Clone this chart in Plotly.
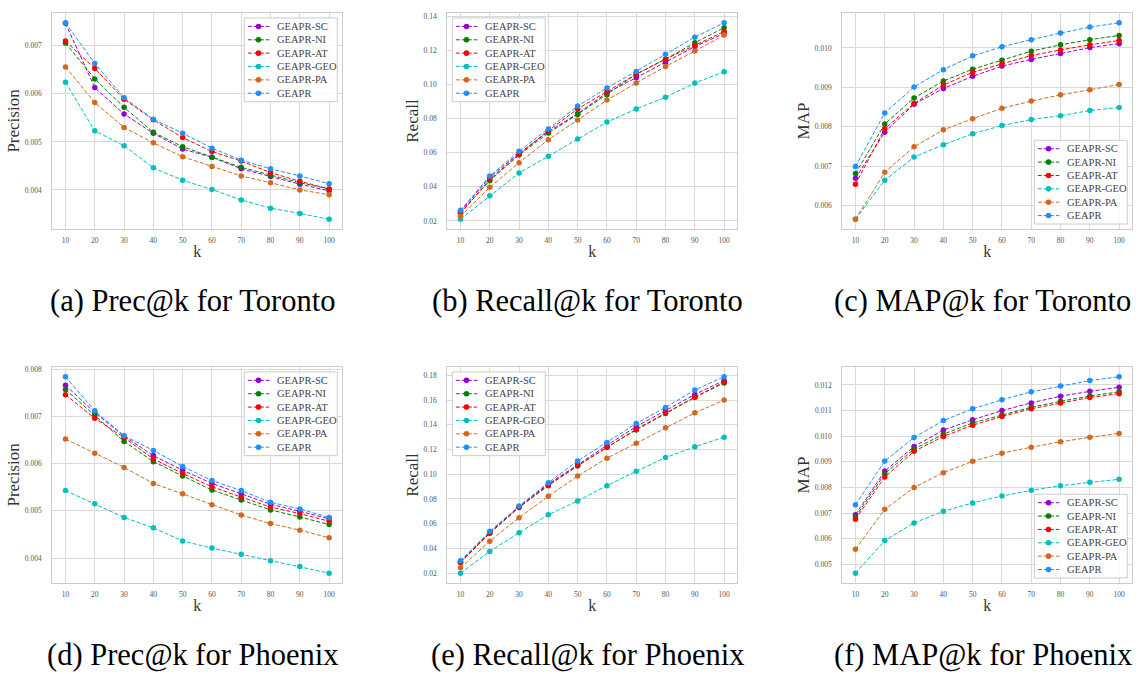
import plotly.graph_objects as go

W, H = 1138, 674

k_values = [10, 20, 30, 40, 50, 60, 70, 80, 90, 100]
series_names = ["GEAPR-SC", "GEAPR-NI", "GEAPR-AT", "GEAPR-GEO", "GEAPR-PA", "GEAPR"]
series_colors = ["#9400D3", "#008000", "#FF0000", "#00BFBF", "#D2691E", "#1E90FF"]

# (a) Precision Toronto
prec_toronto_sc = [0.00747, 0.00613, 0.00558, 0.00518, 0.00485, 0.00468, 0.00444, 0.00428, 0.00412, 0.00398]
prec_toronto_ni = [0.00706, 0.00631, 0.00572, 0.00520, 0.00490, 0.00468, 0.00447, 0.00431, 0.00415, 0.00402]
prec_toronto_at = [0.00710, 0.00653, 0.00589, 0.00546, 0.00509, 0.00480, 0.00460, 0.00436, 0.00418, 0.00402]
prec_toronto_geo = [0.00624, 0.00523, 0.00492, 0.00446, 0.00420, 0.00401, 0.00379, 0.00362, 0.00351, 0.00339]
prec_toronto_pa = [0.00656, 0.00582, 0.00530, 0.00498, 0.00469, 0.00449, 0.00429, 0.00415, 0.00400, 0.00390]
prec_toronto_geapr = [0.00748, 0.00663, 0.00592, 0.00547, 0.00518, 0.00487, 0.00462, 0.00444, 0.00429, 0.00413]

# (b) Recall Toronto
rec_toronto_sc = [0.0255, 0.0456, 0.0596, 0.0723, 0.0828, 0.0951, 0.1039, 0.1129, 0.1222, 0.1299]
rec_toronto_ni = [0.0249, 0.0436, 0.0586, 0.0715, 0.0824, 0.0940, 0.1060, 0.1148, 0.1244, 0.1332]
rec_toronto_at = [0.0243, 0.0444, 0.0590, 0.0729, 0.0856, 0.0957, 0.1060, 0.1148, 0.1228, 0.1310]
rec_toronto_geo = [0.0210, 0.0348, 0.0481, 0.0579, 0.0680, 0.0779, 0.0856, 0.0924, 0.1008, 0.1074]
rec_toronto_pa = [0.0227, 0.0397, 0.0541, 0.0676, 0.0791, 0.0908, 0.1008, 0.1105, 0.1195, 0.1289]
rec_toronto_geapr = [0.0262, 0.0463, 0.0608, 0.0739, 0.0873, 0.0979, 0.1076, 0.1176, 0.1277, 0.1361]

# (c) MAP Toronto
map_toronto_sc = [0.00669, 0.00786, 0.00857, 0.00897, 0.00928, 0.00954, 0.00971, 0.00986, 0.01001, 0.01011]
map_toronto_ni = [0.00681, 0.00807, 0.00873, 0.00916, 0.00946, 0.00969, 0.00992, 0.01008, 0.01021, 0.01032]
map_toronto_at = [0.00654, 0.00795, 0.00859, 0.00906, 0.00938, 0.00960, 0.00981, 0.00995, 0.01008, 0.01019]
map_toronto_geo = [0.00565, 0.00664, 0.00723, 0.00754, 0.00782, 0.00803, 0.00818, 0.00828, 0.00841, 0.00849]
map_toronto_pa = [0.00565, 0.00684, 0.00749, 0.00792, 0.00820, 0.00847, 0.00865, 0.00881, 0.00894, 0.00907]
map_toronto_geapr = [0.00699, 0.00835, 0.00901, 0.00945, 0.00980, 0.01003, 0.01021, 0.01038, 0.01053, 0.01064]

# (d) Precision Phoenix
prec_phoenix_sc = [0.00766, 0.00708, 0.00658, 0.00617, 0.00586, 0.00558, 0.00536, 0.00514, 0.00499, 0.00483]
prec_phoenix_ni = [0.00757, 0.00703, 0.00647, 0.00604, 0.00574, 0.00544, 0.00523, 0.00502, 0.00487, 0.00471]
prec_phoenix_at = [0.00746, 0.00696, 0.00655, 0.00610, 0.00579, 0.00551, 0.00529, 0.00508, 0.00494, 0.00478]
prec_phoenix_geo = [0.00543, 0.00515, 0.00486, 0.00464, 0.00436, 0.00421, 0.00408, 0.00394, 0.00382, 0.00368]
prec_phoenix_pa = [0.00652, 0.00622, 0.00592, 0.00558, 0.00536, 0.00513, 0.00491, 0.00473, 0.00459, 0.00443]
prec_phoenix_geapr = [0.00784, 0.00712, 0.00659, 0.00628, 0.00594, 0.00564, 0.00543, 0.00518, 0.00504, 0.00486]

# (e) Recall Phoenix
rec_phoenix_sc = [0.0292, 0.0530, 0.0738, 0.0922, 0.1076, 0.1235, 0.1386, 0.1519, 0.1646, 0.1759]
rec_phoenix_ni = [0.0286, 0.0522, 0.0732, 0.0914, 0.1068, 0.1219, 0.1359, 0.1492, 0.1622, 0.1738]
rec_phoenix_at = [0.0286, 0.0524, 0.0732, 0.0908, 0.1068, 0.1219, 0.1365, 0.1495, 0.1624, 0.1746]
rec_phoenix_geo = [0.0200, 0.0376, 0.0527, 0.0673, 0.0784, 0.0908, 0.1024, 0.1135, 0.1222, 0.1300]
rec_phoenix_pa = [0.0243, 0.0459, 0.0649, 0.0822, 0.0986, 0.1130, 0.1251, 0.1376, 0.1497, 0.1600]
rec_phoenix_geapr = [0.0300, 0.0538, 0.0743, 0.0932, 0.1108, 0.1257, 0.1411, 0.1541, 0.1681, 0.1789]

# (f) MAP Phoenix
map_phoenix_sc = [0.00694, 0.00864, 0.00960, 0.01024, 0.01064, 0.01100, 0.01130, 0.01156, 0.01175, 0.01191]
map_phoenix_ni = [0.00685, 0.00854, 0.00950, 0.01008, 0.01052, 0.01083, 0.01113, 0.01136, 0.01157, 0.01173]
map_phoenix_at = [0.00676, 0.00841, 0.00941, 0.00999, 0.01043, 0.01077, 0.01107, 0.01130, 0.01151, 0.01166]
map_phoenix_geo = [0.00466, 0.00593, 0.00662, 0.00707, 0.00740, 0.00767, 0.00789, 0.00807, 0.00820, 0.00832]
map_phoenix_pa = [0.00559, 0.00715, 0.00800, 0.00858, 0.00902, 0.00934, 0.00957, 0.00978, 0.00996, 0.01011]
map_phoenix_geapr = [0.00733, 0.00903, 0.00995, 0.01061, 0.01107, 0.01142, 0.01173, 0.01196, 0.01217, 0.01232]

captions = ["(a) Prec@k for Toronto", "(b) Recall@k for Toronto", "(c) MAP@k for Toronto",
            "(d) Prec@k for Phoenix", "(e) Recall@k for Phoenix", "(f) MAP@k for Phoenix"]
y_titles = ["Precision", "Recall", "MAP", "Precision", "Recall", "MAP"]
x_title = "k"

panels = [
    [prec_toronto_sc, prec_toronto_ni, prec_toronto_at, prec_toronto_geo, prec_toronto_pa, prec_toronto_geapr],
    [rec_toronto_sc, rec_toronto_ni, rec_toronto_at, rec_toronto_geo, rec_toronto_pa, rec_toronto_geapr],
    [map_toronto_sc, map_toronto_ni, map_toronto_at, map_toronto_geo, map_toronto_pa, map_toronto_geapr],
    [prec_phoenix_sc, prec_phoenix_ni, prec_phoenix_at, prec_phoenix_geo, prec_phoenix_pa, prec_phoenix_geapr],
    [rec_phoenix_sc, rec_phoenix_ni, rec_phoenix_at, rec_phoenix_geo, rec_phoenix_pa, rec_phoenix_geapr],
    [map_phoenix_sc, map_phoenix_ni, map_phoenix_at, map_phoenix_geo, map_phoenix_pa, map_phoenix_geapr],
]
tick_formats = [".3f", ".2f", ".3f", ".3f", ".2f", ".3f"]
tick_steps = [0.001, 0.02, 0.001, 0.001, 0.02, 0.001]
legend_corner = ["tr", "tl", "br", "tr", "tl", "br"]

# layout geometry (pixels)
col_left = [52.3, 447.3, 842.3]
plot_w = 290.0
row_top = [11.0, 366.0]
plot_h = 216.7

def px(x):
    return x / W

def py(y):
    return 1 - y / H

SERIF = "Liberation Serif"
GRID = "#d9d9d9"
TICK_COLOR = "#555555"

fig = go.Figure()
shapes = []
annotations = []

for i, data in enumerate(panels):
    r, c = divmod(i, 3)
    n = i + 1
    xa = "x" if n == 1 else f"x{n}"
    ya = "y" if n == 1 else f"y{n}"
    for name, color, vals in zip(series_names, series_colors, data):
        fig.add_trace(go.Scatter(
            x=k_values, y=vals, name=name, mode="lines+markers",
            line=dict(color=color, width=1, dash="4px,2px"),
            marker=dict(color=color, size=5.5, symbol="circle"),
            xaxis=xa, yaxis=ya, showlegend=False,
        ))
    allv = [v for s in data for v in s]
    lo, hi = min(allv), max(allv)
    m = (hi - lo) * 0.05
    x0, x1 = col_left[c], col_left[c] + plot_w
    y0, y1 = row_top[r], row_top[r] + plot_h
    xkey = "xaxis" if n == 1 else f"xaxis{n}"
    ykey = "yaxis" if n == 1 else f"yaxis{n}"
    fig.layout[xkey] = dict(
        domain=[px(x0), px(x1)], anchor=ya, range=[5.5, 104.5],
        tickvals=k_values, ticks="", showgrid=True, gridcolor=GRID, gridwidth=1,
        showline=True, linecolor="#cccccc", linewidth=1.2, mirror=True, zeroline=False,
        tickfont=dict(family=SERIF, size=7.5, color=TICK_COLOR), ticklabelstandoff=4,
        title=dict(text=x_title, font=dict(family=SERIF, size=16, color="#333333"), standoff=1),
    )
    fig.layout[ykey] = dict(
        domain=[py(y1), py(y0)], anchor=xa, range=[lo - m, hi + m],
        dtick=tick_steps[i], tick0=0, tickformat=tick_formats[i], ticks="",
        showgrid=True, gridcolor=GRID, gridwidth=1,
        showline=True, linecolor="#cccccc", linewidth=1.2, mirror=True, zeroline=False,
        tickfont=dict(family=SERIF, size=7.5, color=TICK_COLOR), ticklabelstandoff=8,
        title=dict(text=y_titles[i], font=dict(family=SERIF, size=17, color="#333333"), standoff=0),
    )
    # caption
    annotations.append(dict(
        text=captions[i], x=px((x0 + x1) / 2 - 4.5), y=py(r * 355 + 300), xref="paper", yref="paper",
        xanchor="center", yanchor="middle", showarrow=False,
        font=dict(family=SERIF, size=30.5, color="#000000"),
    ))
    # legend box
    lw, lh, inset = 93.0, 84.0, 5.0
    corner = legend_corner[i]
    lx0 = x1 - inset - lw if corner[1] == "r" else x0 + inset
    ly0 = y0 + inset if corner[0] == "t" else y1 - inset - lh
    shapes.append(dict(type="rect", xref="paper", yref="paper",
                       x0=px(lx0), x1=px(lx0 + lw), y0=py(ly0), y1=py(ly0 + lh),
                       fillcolor="rgba(255,255,255,0.85)", line=dict(color="#cccccc", width=1), layer="above"))
    for j, (name, color) in enumerate(zip(series_names, series_colors)):
        cy = ly0 + 8.5 + j * 13.4
        shapes.append(dict(type="line", xref="paper", yref="paper",
                           x0=px(lx0 + 3.5), x1=px(lx0 + 25), y0=py(cy), y1=py(cy),
                           line=dict(color=color, width=1, dash="4px,2px"), layer="above"))
        rr = 2.8
        mx = lx0 + 14.2
        shapes.append(dict(type="circle", xref="paper", yref="paper",
                           x0=px(mx - rr), x1=px(mx + rr), y0=py(cy - rr), y1=py(cy + rr),
                           fillcolor=color, line=dict(color=color, width=0), layer="above"))
        annotations.append(dict(
            text=name, x=px(lx0 + 30.5), y=py(cy), xref="paper", yref="paper",
            xanchor="left", yanchor="middle", showarrow=False,
            font=dict(family=SERIF, size=10.5, color="#444444"),
        ))

fig.update_layout(
    width=W, height=H, margin=dict(l=0, r=0, t=0, b=0),
    paper_bgcolor="white", plot_bgcolor="white",
    showlegend=False, shapes=shapes, annotations=annotations,
)

fig.write_html("out.html")
